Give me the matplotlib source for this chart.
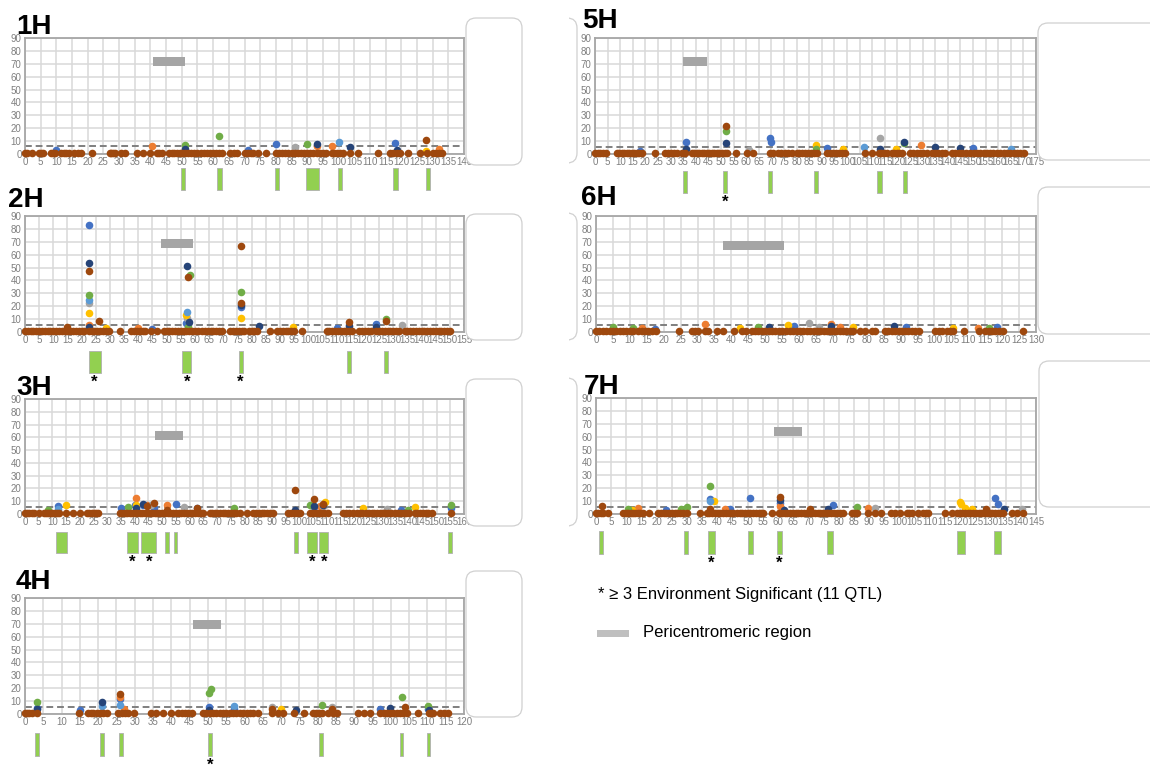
import matplotlib.pyplot as plt
from matplotlib.patches import Rectangle, FancyBboxPatch

plt.rcParams['font.family'] = ['Liberation Sans', 'DejaVu Sans']

# ---- data (positions in cM, LOD values) ----
BASE_LOD = 0.6   # background markers sit just above zero

XMAX_1H = 140
MARKERS_1H = [0, 0.5, 2.3, 4.5, 5.2, 5.8, 8.3, 9, 9.6, 11.5, 12.3, 13, 14, 15.5, 17, 18, 21.3, 27, 27.5,
              28, 28.7, 30.5, 31.8, 35.6, 37.7, 40, 42, 42.8, 43.6, 46, 46.8, 47.5, 48.4, 49.3, 50, 51, 52,
              53, 54, 55, 56, 57, 58, 59, 60, 61, 61.8, 62.7, 65.4, 66.5, 67.5, 70, 71, 72, 72.8, 74.4, 77,
              80.2, 81, 82, 83, 84, 85, 86, 87, 88, 89, 90, 91, 92, 93, 94, 95, 96, 97.8, 98.5, 99.5, 100.5,
              101.5, 103.6, 106.3, 112.6, 116.4, 117.5, 118.5, 119.5, 122.2, 126, 128.3, 130.2, 131, 132, 133]
PEAKS_1H = [(10, 3, 'blue'), (40.5, 6.2, 'orange'), (51, 7, 'green'), (51, 3.6, 'dblue'), (62, 13.7, 'green'),
            (71, 3.4, 'blue'), (80, 7.5, 'blue'), (86, 5.7, 'gray'), (90, 7.5, 'green'), (93, 7.5, 'dblue'),
            (93, 6.5, 'orange'), (98, 6.2, 'orange'), (100, 9.6, 'lblue'), (103.5, 5.7, 'dblue'),
            (118, 8.8, 'blue'), (118.5, 2.8, 'dblue'), (128, 10.9, 'brown'), (128, 2.6, 'yellow'),
            (132, 3.9, 'orange')]
QTL_1H = [(49.7, 51.1), (61.3, 62.7), (79.8, 81.1), (89.7, 93.8), (99.7, 101.1), (117.5, 119), (128, 129.3)]
STARS_1H = []
CEN_1H = (40.7, 51.1, 68, 75)
THRESH_1H = 6.3

XMAX_2H = 155
MARKERS_2H = [0, 1, 2, 3, 4, 5, 6, 7, 8, 9, 10, 11, 12, 13, 14, 15, 16, 17, 18, 19, 20, 21, 22.5, 23.5, 24.5,
              25.5, 26.5, 27.5, 28.5, 29.5, 33.5, 37.5, 38.5, 39.5, 40.5, 41.5, 42.5, 44.5, 46.5, 49, 50, 51,
              52, 53, 54, 55, 56, 57, 58, 59, 60, 61, 62.5, 63.5, 64.5, 65.5, 66.5, 67.5, 68.5, 69.5, 72.5,
              73.5, 74.5, 75.5, 76.5, 77.5, 79, 80, 81, 82, 86.5, 89, 90, 91, 92, 93, 94, 95, 97.7, 106.5,
              107.5, 108.5, 109.5, 110.5, 111.5, 112.5, 113.5, 114.5, 115.5, 118, 119, 120, 121, 122, 124, 125,
              126, 127, 128, 129, 130, 131, 132, 134, 135, 136, 137, 138, 139, 140, 141, 142, 143, 144, 145,
              146, 147, 148, 149, 150]
PEAKS_2H = [(22.7, 83.3, 'blue'), (22.7, 53.8, 'dblue'), (22.7, 47.6, 'brown'), (22.7, 29, 'green'),
            (22.7, 24.6, 'lblue'), (22.7, 22.2, 'gray'), (22.7, 14.5, 'yellow'), (22.7, 5.5, 'orange'),
            (22.7, 4, 'dblue'), (26, 8.8, 'brown'), (28.5, 3, 'yellow'), (15, 4, 'brown'), (40, 3, 'orange'),
            (45, 2.5, 'blue'), (57.1, 51, 'dblue'), (57.4, 43, 'brown'), (58.2, 44, 'green'),
            (57.1, 15.3, 'lblue'), (56.7, 13.4, 'yellow'), (57.3, 10.9, 'gray'), (56.8, 7, 'blue'),
            (58, 8, 'dblue'), (57.5, 4, 'green'), (76.1, 66.7, 'brown'), (76.1, 31, 'green'),
            (76.1, 22.2, 'brown'), (76.1, 21.2, 'dblue'), (76.1, 19.1, 'blue'), (76.1, 10.9, 'yellow'),
            (82.5, 5, 'dblue'), (94.5, 3.5, 'yellow'), (110, 3, 'blue'), (114.5, 8, 'brown'),
            (114.5, 4.5, 'dblue'), (124, 6, 'blue'), (124, 4, 'dblue'), (127.3, 9.8, 'green'),
            (127.3, 8.3, 'brown'), (133, 5.5, 'gray')]
QTL_2H = [(22.7, 26.8), (55.5, 58.6), (75.4, 76.9), (113.8, 115.2), (126.8, 128.2)]
STARS_2H = [24.5, 57.3, 76.1]
CEN_2H = (47.9, 59.2, 65.5, 72.5)
THRESH_2H = 5.5

XMAX_3H = 160
MARKERS_3H = [0, 0.8, 1.6, 2.4, 3.2, 5, 6.8, 7.6, 8.4, 9.2, 10, 10.8, 11.6, 12.4, 15, 17.4, 20.1, 22.7, 23.5,
              24.3, 25.1, 25.9, 26.7, 34.6, 35.5, 36.4, 37.3, 38.2, 39.1, 40, 40.9, 41.8, 42.7, 43.6, 44.5,
              45.4, 46.3, 47.2, 48.1, 49, 50, 51, 52, 53, 54, 55, 56, 57, 58, 59, 60, 61, 62, 63, 64, 65,
              67.4, 68.3, 69.2, 70.1, 71, 72, 73, 74, 75, 76, 77, 78.2, 80.8, 83.2, 84.2, 85.2, 86.2, 87.2,
              88.2, 89.2, 90.3, 96, 97, 98, 99, 100.2, 104, 105, 106, 107, 108, 109, 110.5, 116, 117, 118,
              119.5, 121, 122, 123, 124.3, 125.3, 126.3, 127.3, 128.3, 129.3, 130.3, 131.3, 132.3, 133.5,
              135, 136, 137, 138, 139, 140, 142, 143, 144, 145, 146, 147, 148.5, 155.2]
PEAKS_3H = [(12, 6.3, 'blue'), (12, 4, 'lblue'), (15, 7, 'yellow'), (8.5, 3, 'green'), (35, 5, 'blue'),
            (37.7, 5.5, 'green'), (40.5, 12.3, 'orange'), (40.5, 7, 'yellow'), (40.2, 7, 'blue'),
            (40.5, 5, 'dblue'), (42.9, 7.6, 'dblue'), (42.9, 6.8, 'blue'), (44.3, 6.8, 'orange'),
            (44.6, 6, 'brown'), (46, 7, 'gray'), (47.1, 8.3, 'brown'), (47.1, 5, 'blue'),
            (51.6, 7.3, 'orange'), (51.6, 3, 'brown'), (55, 8.1, 'blue'), (58, 5.5, 'gray'),
            (62.6, 5, 'brown'), (62.6, 4.5, 'blue'), (76.3, 5, 'green'), (98.4, 19, 'brown'),
            (98.4, 3, 'dblue'), (103.9, 7.3, 'green'), (105.3, 12, 'brown'), (105.3, 5.5, 'blue'),
            (105.3, 6, 'dblue'), (107.5, 6.5, 'orange'), (108.7, 7, 'dblue'), (108.7, 7.5, 'brown'),
            (108.7, 6, 'gray'), (109.4, 9.6, 'yellow'), (123.3, 5, 'yellow'), (132, 4, 'gray'),
            (137, 3, 'blue'), (139.5, 3.5, 'green'), (142, 5.2, 'yellow'), (155.2, 7, 'green'),
            (155.2, 4.5, 'blue')]
QTL_3H = [(11.3, 15.4), (37.2, 41.3), (42.4, 47.9), (50.9, 52.5), (54.3, 55.5), (97.9, 99.5),
          (102.9, 106.3), (107.2, 110.3), (154.3, 155.6)]
STARS_3H = [39.2, 45.4, 104.7, 109.1]
CEN_3H = (47.5, 57.7, 58.2, 65.2)
THRESH_3H = 5.6

XMAX_4H = 120
MARKERS_4H = [0, 0.6, 1.2, 1.8, 3.2, 14.8, 17.3, 18, 18.7, 19.6, 20.5, 21.4, 22.3, 25.5, 26.4, 27.3, 28.2,
              29.9, 34.4, 35.8, 37.8, 39.8, 41.9, 42.8, 43.7, 44.6, 45.6, 48.7, 49.6, 50.5, 51.4, 52.3,
              53.2, 54.1, 55, 55.9, 56.8, 57.7, 58.8, 59.7, 60.6, 61.5, 62.4, 63.8, 67.4, 69.1, 70.4, 73.5,
              76.3, 78.6, 79.5, 80.3, 81.1, 82.9, 84.1, 85.4, 91.1, 92.7, 94.3, 97, 98, 98.9, 99.8, 100.7,
              101.6, 102.5, 103.4, 104.3, 107.5, 110.3, 111, 111.6, 113.4, 114.5, 115.7]
PEAKS_4H = [(3.3, 9.6, 'green'), (3.3, 5, 'blue'), (3.3, 3.5, 'dblue'), (15, 3, 'blue'), (21, 9.6, 'dblue'),
            (21, 6, 'lblue'), (26.1, 15.3, 'brown'), (26.1, 13.5, 'orange'), (26.1, 11.9, 'blue'),
            (26.1, 6.7, 'lblue'), (27, 4, 'orange'), (50.4, 16.3, 'green'), (50.8, 19.7, 'green'),
            (50.4, 5.4, 'blue'), (50.4, 3, 'dblue'), (57.2, 6, 'lblue'), (57.2, 4, 'blue'),
            (67.6, 5.5, 'gray'), (67.6, 4, 'brown'), (70, 3.5, 'yellow'), (74, 3, 'dblue'),
            (81.1, 6.7, 'green'), (84, 5.2, 'gray'), (84, 4.2, 'brown'), (84, 2.5, 'dblue'), (97, 4, 'blue'),
            (99.8, 4.5, 'dblue'), (103, 12.9, 'green'), (104, 5.5, 'brown'), (110.2, 6.2, 'green'),
            (110.2, 4, 'blue'), (110.5, 3, 'dblue')]
QTL_4H = [(2.8, 3.9), (20.6, 21.7), (25.6, 26.7), (50.1, 51.2), (80.5, 81.5), (102.4, 103.4), (109.8, 110.8)]
STARS_4H = [50.7]
CEN_4H = (46, 53.7, 66, 73)
THRESH_4H = 5.5

XMAX_5H = 175
MARKERS_5H = [0, 1, 2, 3, 4.5, 8.6, 9.6, 10.6, 11.6, 12.6, 13.6, 14.6, 15.6, 16.6, 17.6, 18.5, 23.8, 27.8,
              28.9, 30, 31.2, 32.4, 34.4, 35.7, 38.4, 39.4, 40.4, 41.4, 42.4, 43.4, 44.4, 45.4, 46.4, 47.4,
              48.4, 49.4, 50.4, 51.4, 52.3, 55.9, 60.2, 62.6, 69.5, 70.8, 72.8, 74, 75.3, 76.6, 78.1, 80.1,
              81, 82, 83.4, 84.6, 85.8, 87, 88, 92, 93.2, 94.4, 95.6, 96.8, 98, 99.3, 107.2, 109.9, 112.5,
              113.6, 114.7, 115.8, 117.8, 118.8, 119.8, 120.8, 121.8, 125, 126.3, 127.6, 128.9, 130.2,
              131.7, 133.7, 135, 136.3, 137.6, 139, 141.6, 143, 144.4, 145.8, 147.2, 148.9, 150.2, 151.5,
              152.8, 154.2, 155.5, 156.8, 158.1, 159.4, 160.8, 162.2, 163.5, 164.8, 166.1, 167.4, 168.7, 170.1]
PEAKS_5H = [(18, 2.5, 'blue'), (36, 9.6, 'blue'), (36, 3.5, 'dblue'), (51.8, 21.5, 'brown'),
            (51.8, 17.9, 'green'), (51.8, 8.8, 'dblue'), (61, 3, 'gray'), (69.5, 12.2, 'blue'),
            (70, 9.6, 'blue'), (87.8, 7, 'yellow'), (87.8, 3.5, 'green'), (92.1, 4.5, 'blue'),
            (98.4, 4, 'yellow'), (106.6, 5.5, 'lblue'), (112.9, 12.2, 'gray'), (112.9, 4, 'dblue'),
            (119.5, 4, 'yellow'), (122.8, 9, 'dblue'), (122.8, 8.3, 'green'), (129.5, 6.7, 'orange'),
            (134.8, 5.5, 'dblue'), (145, 4.5, 'dblue'), (150, 4.5, 'blue'), (165, 3.5, 'lblue')]
QTL_5H = [(35.1, 36.7), (50.8, 52.4), (68.8, 70.4), (87, 88.6), (112.1, 113.7), (122.2, 123.8)]
STARS_5H = [51.6]
CEN_5H = (35.1, 44.6, 68.2, 75.2)
THRESH_5H = 5.7

XMAX_6H = 130
MARKERS_6H = [0, 1, 2, 3, 4, 5, 6, 7, 8, 9, 10, 11, 12.5, 13.5, 14.5, 15.5, 16.5, 17.7, 24.5, 28.3, 29.2,
              30.2, 32.2, 33.2, 35.7, 37.4, 40.8, 43, 44.3, 46, 47, 48, 49, 50, 51, 52, 53, 54, 55, 56, 57.3,
              58.3, 59.3, 60.3, 61.3, 62.3, 63.3, 64.3, 65.3, 66.3, 67.3, 68.3, 69.2, 70.1, 71, 72, 73, 74,
              75, 76, 78, 79.5, 81.5, 82.5, 85.4, 86.4, 87.4, 88.4, 89.4, 90.4, 91.3, 92.3, 93.3, 94.3, 95.3,
              100.2, 101.2, 102.2, 103.6, 104.6, 105.6, 108.6, 113.3, 115, 116, 117, 118, 119, 120.2, 126.3]
PEAKS_6H = [(5, 4, 'green'), (11, 3, 'green'), (13.5, 3, 'orange'), (17.5, 2.5, 'blue'), (32.1, 6.4, 'orange'),
            (42.5, 3, 'yellow'), (48, 4, 'green'), (51, 4, 'dblue'), (56.8, 5.2, 'yellow'),
            (58.5, 4.5, 'blue'), (62.9, 7, 'gray'), (66, 3.5, 'gray'), (69.5, 6, 'orange'),
            (69.5, 4.5, 'dblue'), (72, 3.5, 'orange'), (76, 3.5, 'yellow'), (88, 5, 'dblue'),
            (91.5, 3.5, 'blue'), (105.5, 3, 'yellow'), (113, 3, 'orange'), (116, 3, 'green'),
            (118.5, 4, 'blue')]
QTL_6H = []
STARS_6H = []
CEN_6H = (37.5, 55.4, 63.4, 70.7)
THRESH_6H = 5.7

XMAX_7H = 145
MARKERS_7H = [0, 0.8, 1.6, 2.4, 4, 9, 9.8, 10.6, 11.4, 12.2, 13, 13.8, 14.6, 15.6, 17.6, 20.5, 21.4, 22.3,
              23.2, 24.1, 25, 25.9, 26.8, 27.7, 28.7, 29.9, 34.3, 36.5, 37.4, 38.3, 39.2, 40.1, 41, 41.9,
              42.8, 43.7, 44.6, 45.3, 46.4, 47.3, 48.2, 49.1, 50, 50.9, 51.8, 52.7, 53.6, 54.5, 55.1, 57.9,
              60.4, 61.3, 62.2, 63.1, 64, 64.9, 65.8, 66.7, 67.6, 68.5, 69.4, 70.3, 71.2, 72.1, 73, 73.9,
              74.8, 75.7, 76.6, 77.5, 78.4, 79.3, 80.4, 81.5, 84.3, 85.1, 85.9, 89.8, 91.9, 93.9, 97.1, 98.5,
              100.2, 102.4, 103.2, 104, 106.2, 107.9, 108.7, 109.5, 115, 117.2, 118.9, 119.8, 120.7, 121.6,
              122.5, 123.4, 124.3, 125.2, 126.1, 127, 127.9, 128.8, 129.7, 130.6, 131.5, 132.4, 133.3, 134.2,
              137, 138.9, 140.8]
PEAKS_7H = [(2, 6.2, 'brown'), (10.5, 3.5, 'green'), (12, 3, 'yellow'), (14, 5, 'orange'), (23, 3, 'blue'),
            (28, 3.5, 'green'), (29.9, 5.4, 'green'), (37.6, 22, 'green'), (37.6, 11.4, 'blue'),
            (37.6, 10, 'lblue'), (38.9, 10.3, 'yellow'), (37.6, 3.5, 'brown'), (42.5, 3.5, 'orange'),
            (44, 3.5, 'blue'), (50.8, 12.4, 'blue'), (60.7, 12.9, 'brown'), (60.7, 10.6, 'dblue'),
            (60.7, 8.8, 'blue'), (60.7, 6.5, 'orange'), (62, 3, 'dblue'), (70.5, 3.5, 'brown'),
            (76.6, 4, 'dblue'), (78.2, 6.7, 'blue'), (85.9, 5.4, 'green'), (89.5, 4.9, 'orange'),
            (92, 4.5, 'gray'), (120, 9, 'yellow'), (120.3, 8, 'yellow'), (121.5, 5, 'yellow'),
            (124, 4, 'yellow'), (128.5, 4, 'brown'), (131.5, 12.4, 'blue'), (132.6, 7.5, 'blue'),
            (134.5, 3.5, 'dblue'), (140.5, 4, 'gray')]
QTL_7H = [(1.1, 2.4), (29, 30.3), (36.9, 39.3), (50.2, 51.6), (59.8, 61.3), (76.1, 78.2), (119.1, 121.7),
          (131, 133.4)]
STARS_7H = [37.9, 60.3]
CEN_7H = (58.6, 67.8, 60.3, 67.5)
THRESH_7H = 5.7

SERIES = ['blue', 'orange', 'gray', 'yellow', 'lblue', 'green', 'dblue', 'brown']
COLORS = {'blue': '#4472C4', 'orange': '#ED7D31', 'gray': '#A5A5A5', 'yellow': '#FFC000',
          'lblue': '#5B9BD5', 'green': '#70AD47', 'dblue': '#264478', 'brown': '#9E480E'}

CHROMS = [
    ('1H', XMAX_1H, MARKERS_1H, PEAKS_1H, QTL_1H, STARS_1H, CEN_1H, THRESH_1H),
    ('2H', XMAX_2H, MARKERS_2H, PEAKS_2H, QTL_2H, STARS_2H, CEN_2H, THRESH_2H),
    ('3H', XMAX_3H, MARKERS_3H, PEAKS_3H, QTL_3H, STARS_3H, CEN_3H, THRESH_3H),
    ('4H', XMAX_4H, MARKERS_4H, PEAKS_4H, QTL_4H, STARS_4H, CEN_4H, THRESH_4H),
    ('5H', XMAX_5H, MARKERS_5H, PEAKS_5H, QTL_5H, STARS_5H, CEN_5H, THRESH_5H),
    ('6H', XMAX_6H, MARKERS_6H, PEAKS_6H, QTL_6H, STARS_6H, CEN_6H, THRESH_6H),
    ('7H', XMAX_7H, MARKERS_7H, PEAKS_7H, QTL_7H, STARS_7H, CEN_7H, THRESH_7H),
]

# ---- layout in pixels (x left->right, y top->down) ----
W, H = 1150, 767
LAYOUT = {
    # axes (left, right, top, bottom), qtl bar (top, bottom), title (x, baseline), side box (x0, x1, y0, y1)
    '1H': dict(axes=(25, 464, 38, 154), bars=(168, 190), title=(16, 34), box=(466, 522, 18, 165)),
    '2H': dict(axes=(25, 464, 216, 332), bars=(351, 373), title=(8, 207), box=(466, 522, 214, 340)),
    '3H': dict(axes=(25, 464, 399, 514), bars=(532, 553), title=(16, 395), box=(466, 522, 379, 526)),
    '4H': dict(axes=(25, 464, 598, 714), bars=(733, 756), title=(16, 589), box=(466, 522, 571, 717)),
    '5H': dict(axes=(595, 1036, 38, 154), bars=(171, 193), title=(582, 28), box=(1038, 1175, 23, 160)),
    '6H': dict(axes=(596, 1036, 216, 332), bars=(0, 0), title=(581, 205), box=(1038, 1175, 187, 334)),
    '7H': dict(axes=(596, 1036, 398, 514), bars=(531, 554), title=(584, 394), box=(1039, 1175, 361, 507)),
}
CUT_BOXES = [(18, 163), (213, 340), (378, 526)]   # boxes partly hidden left of the right column

fig = plt.figure(figsize=(W / 100, H / 100), dpi=100)
inch = fig.dpi_scale_trans


def side_box(x0, x1, y0, y1, clip_x=None):
    p = FancyBboxPatch((x0 / 100, (H - y1) / 100), (x1 - x0) / 100, (y1 - y0) / 100,
                       boxstyle='round,pad=0,rounding_size=0.1', transform=inch,
                       fc='white', ec='#D0D0D0', lw=0.9, zorder=10)
    fig.add_artist(p)
    if clip_x is not None:
        p.set_clip_path(Rectangle((clip_x / 100, 0), 10, 10, transform=inch))


for name, xmax, markers, peaks, qtls, stars, cen, thresh in CHROMS:
    lay = LAYOUT[name]
    l, r, t, b = lay['axes']
    hpx = b - t
    ax = fig.add_axes([l / W, 1 - b / H, (r - l) / W, hpx / H])
    ax.set_xlim(0, xmax)
    ax.set_ylim(0, 90)
    ax.set_xticks(range(0, xmax + 1, 5))
    ax.set_yticks(range(0, 91, 10))
    ax.tick_params(length=0, labelsize=7, labelcolor='#7F7F7F', pad=2.5)
    ax.grid(True, color='#D9D9D9', lw=1.1)
    ax.set_axisbelow(True)
    for sp in ax.spines.values():
        sp.set_color('#A6A6A6')
        sp.set_linewidth(1.3)

    ax.add_patch(Rectangle((cen[0], cen[2]), cen[1] - cen[0], cen[3] - cen[2],
                           fc='#A5A5A5', lw=0, zorder=3))
    ax.axhline(thresh, color='#7F7F7F', ls=(0, (3.5, 2)), lw=1.4, zorder=2)

    for s in SERIES:
        xs = [p for p, v, c in peaks if c == s]
        ys = [v for p, v, c in peaks if c == s]
        if s == 'brown':
            xs = markers + xs
            ys = [BASE_LOD] * len(markers) + ys
        ax.scatter(xs, ys, s=30, color=COLORS[s], lw=0, zorder=4, clip_on=False)

    trans = ax.get_xaxis_transform()
    bt, bb = lay['bars']
    for q0, q1 in qtls:
        ax.add_patch(Rectangle((q0, (b - bb) / hpx), q1 - q0, (bb - bt) / hpx, transform=trans,
                               fc='#92D050', ec='#AFAFAF', lw=0.6, clip_on=False, zorder=3))
    for s in stars:
        ax.text(s, (b - bb - 1.5) / hpx, '*', transform=trans, ha='center', va='top',
                fontsize=12, fontweight='bold', color='black', clip_on=False)

    tx, ty = lay['title']
    fig.text(tx / W, 1 - ty / H, name, fontsize=20, fontweight='bold', va='baseline')
    side_box(*lay['box'])

for y0, y1 in CUT_BOXES:
    side_box(540, 577, y0, y1, clip_x=569)

# legend notes
fig.text(598 / W, 1 - 595 / H, '* \u2265 3 Environment Significant (11 QTL)', fontsize=12, va='center')
fig.add_artist(Rectangle((597 / 100, (H - 637) / 100), 32 / 100, 7 / 100, transform=inch,
                         fc='#BFBFBF', lw=0))
fig.text(643 / W, 1 - 633 / H, 'Pericentromeric region', fontsize=12, va='center')

fig.savefig('out.png', dpi=100)
